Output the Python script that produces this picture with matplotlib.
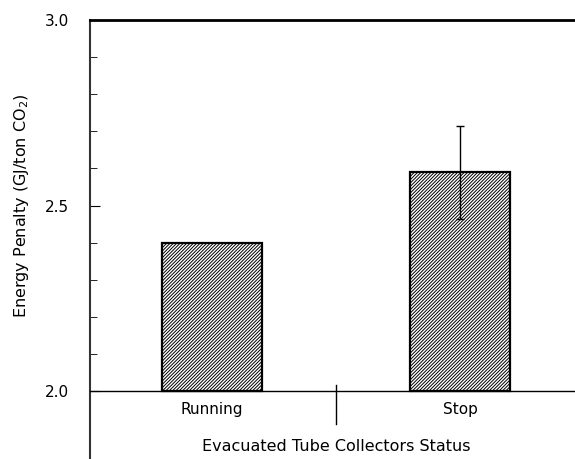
import numpy as np
import matplotlib.pyplot as plt
import matplotlib.transforms as mtransforms

# data
categories = ["Running", "Stop"]
penalty = [2.40, 2.59]
penalty_err = [0.0, 0.125]

plt.rcParams["hatch.linewidth"] = 0.7

fig = plt.figure(figsize=(5.75, 4.59), dpi=100)
ax = fig.add_axes([0.1565, 0.0, 0.8435, 0.9564])

x = np.arange(len(categories))
ax.bar(x, np.array(penalty) - 2.0, bottom=2.0, width=0.4, color="white",
       edgecolor="black", hatch="//////////", linewidth=1.6, zorder=2)
ax.errorbar(x[1], penalty[1], yerr=penalty_err[1], fmt="none", ecolor="black",
            elinewidth=1, capsize=3, capthick=1, zorder=3)

ax.set_xlim(-0.492, 1.464)
ax.set_ylim(1.817, 3.0)

# spines
ax.spines["right"].set_visible(False)
ax.spines["bottom"].set_position(("data", 2.0))
ax.spines["bottom"].set_linewidth(1.0)
ax.spines["top"].set_linewidth(2.0)
ax.spines["left"].set_linewidth(1.5)
ax.spines["left"].set_color("#333333")

ax.set_yticks([2.0, 2.5, 3.0])
ax.set_yticklabels(["2.0", "2.5", "3.0"])
ax.set_yticks(np.arange(2.1, 3.0, 0.1), minor=True)
ax.tick_params(axis="y", which="both", direction="in", labelsize=11, pad=15)
ax.tick_params(axis="y", which="major", length=7)
ax.tick_params(axis="y", which="minor", length=5)

ax.set_xticks(x)
ax.set_xticklabels(categories)
ax.tick_params(axis="x", length=0, labelsize=11, pad=8)

# separator between categories
ax.plot([0.5, 0.5], [2.016, 1.911], color="black", lw=1, clip_on=False)

ax.text(0.5, 1.852, "Evacuated Tube Collectors Status", ha="center",
        va="center", fontsize=11.5)

trans = mtransforms.blended_transform_factory(fig.transFigure, ax.transData)
ax.text(22 / 575, 2.5, "Energy Penalty (GJ/ton CO$_2$)", rotation=90,
        ha="center", va="center", fontsize=11.5, transform=trans)

fig.savefig("out.png", dpi=100)
